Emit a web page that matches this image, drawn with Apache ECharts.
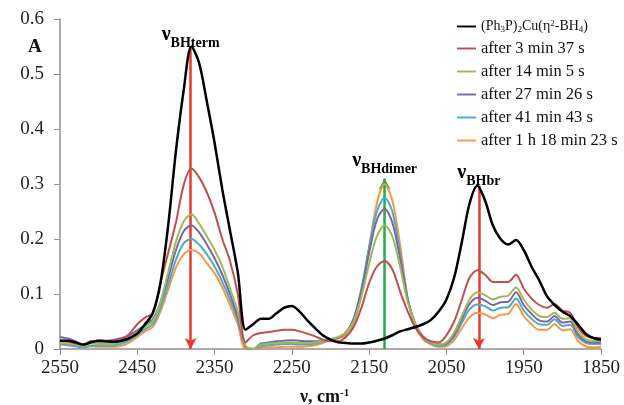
<!DOCTYPE html>
<html lang="en">
<head>
    <meta charset="UTF-8"/>
    <title>IR spectra</title>
    <script src="https://cdn.jsdelivr.net/npm/echarts@6/dist/echarts.min.js"></script>
    <style>
        html, body { margin: 0; padding: 0; background: #fff; }
    </style>
</head>
<body>
<div id="main" style="width:624px;height:405px;"></div>
<script type="text/javascript">
    // wavenumbers, cm-1 (2550 -> 1850)
    var wavenumbers = [2550,2540,2530,2520,2510,2500,2490,2480,2470,2460,2450,2440,2430,2420,2410,2400,2390,2380,2370,2360,
        2350,2340,2330,2320,2310,2300,2290,2280,2270,2260,2250,2240,2230,2220,2210,2200,2190,2180,2170,2160,
        2150,2140,2130,2120,2110,2100,2090,2080,2070,2060,2050,2040,2030,2020,2010,2000,1990,1980,1970,1960,
        1950,1940,1930,1920,1910,1900,1890,1880,1870,1860,1850];

    var startSpec = [0.015,0.015,0.012,0.008,0.012,0.015,0.014,0.013,0.015,0.02,0.028,0.045,0.065,0.12,0.225,0.36,0.47,0.55,0.52,0.45,
        0.375,0.29,0.215,0.14,0.035,0.045,0.055,0.055,0.065,0.075,0.078,0.068,0.052,0.038,0.025,0.017,0.012,0.011,0.01,0.01,
        0.012,0.015,0.019,0.025,0.032,0.036,0.04,0.045,0.053,0.068,0.09,0.13,0.195,0.265,0.297,0.27,0.225,0.2,0.19,0.198,
        0.18,0.15,0.125,0.096,0.08,0.068,0.06,0.045,0.028,0.02,0.017];
    var after3m = [0.015,0.014,0.01,0.008,0.014,0.013,0.013,0.014,0.018,0.028,0.045,0.057,0.065,0.12,0.175,0.23,0.298,0.328,0.312,0.285,
        0.248,0.2,0.16,0.1,0.012,0.025,0.029,0.031,0.033,0.035,0.035,0.032,0.028,0.023,0.017,0.014,0.014,0.022,0.04,0.075,
        0.12,0.15,0.16,0.145,0.105,0.068,0.038,0.022,0.014,0.012,0.025,0.05,0.09,0.13,0.143,0.135,0.122,0.122,0.122,0.135,
        0.11,0.092,0.08,0.075,0.082,0.07,0.066,0.04,0.024,0.02,0.02];
    var after14m = [0.015,0.013,0.01,0.006,0.01,0.009,0.009,0.01,0.013,0.02,0.03,0.04,0.05,0.085,0.14,0.195,0.232,0.245,0.228,0.205,
        0.18,0.15,0.11,0.068,0.006,0.0,0.008,0.01,0.011,0.012,0.012,0.011,0.011,0.012,0.015,0.018,0.022,0.03,0.05,0.095,
        0.155,0.205,0.225,0.205,0.15,0.085,0.045,0.022,0.012,0.008,0.012,0.03,0.06,0.09,0.103,0.098,0.09,0.095,0.097,0.112,
        0.09,0.072,0.06,0.058,0.066,0.055,0.056,0.032,0.018,0.015,0.015];
    var after27m = [0.022,0.019,0.014,0.008,0.014,0.015,0.015,0.017,0.02,0.025,0.034,0.044,0.054,0.085,0.13,0.18,0.214,0.225,0.212,0.19,
        0.165,0.135,0.1,0.058,0.005,0.0,0.01,0.012,0.014,0.015,0.016,0.015,0.014,0.014,0.015,0.017,0.02,0.03,0.055,0.105,
        0.175,0.235,0.255,0.23,0.165,0.09,0.045,0.022,0.012,0.008,0.01,0.026,0.055,0.082,0.093,0.088,0.08,0.085,0.086,0.103,
        0.08,0.064,0.052,0.05,0.06,0.048,0.05,0.027,0.014,0.012,0.012];
    var after41m = [0.008,0.007,0.005,0.003,0.006,0.006,0.006,0.007,0.01,0.016,0.026,0.036,0.045,0.075,0.118,0.162,0.192,0.2,0.19,0.172,
        0.15,0.122,0.09,0.053,0.004,0.0,0.005,0.007,0.008,0.009,0.009,0.008,0.008,0.01,0.013,0.017,0.021,0.03,0.055,0.11,
        0.185,0.25,0.275,0.25,0.175,0.09,0.043,0.02,0.01,0.006,0.008,0.022,0.048,0.072,0.081,0.078,0.07,0.075,0.076,0.092,
        0.07,0.055,0.045,0.044,0.054,0.042,0.044,0.022,0.011,0.009,0.009];
    var after1h18m = [0.012,0.01,0.006,0.003,0.005,0.004,0.004,0.004,0.006,0.012,0.022,0.032,0.04,0.068,0.108,0.148,0.172,0.18,0.174,0.156,
        0.138,0.112,0.08,0.045,0.0,0.0,0.002,0.003,0.003,0.004,0.004,0.004,0.005,0.007,0.011,0.016,0.02,0.025,0.045,0.1,
        0.185,0.265,0.3,0.27,0.19,0.092,0.04,0.017,0.008,0.004,0.005,0.016,0.038,0.058,0.066,0.063,0.056,0.062,0.064,0.082,
        0.06,0.045,0.035,0.035,0.045,0.034,0.036,0.015,0.005,0.003,0.004];

    var seriesNames = ['black', 'after 3 min 37 s', 'after 14 min 5 s', 'after 27 min 26 s', 'after 41 min 43 s', 'after 1 h 18 min 23 s'];
    var seriesColors = ['#000000', '#c0504d', '#9bbb59', '#8064a2', '#4bacc6', '#f79646'];
    var seriesData = [startSpec, after3m, after14m, after27m, after41m, after1h18m];

    var xTicks = [2550, 2450, 2350, 2250, 2150, 2050, 1950, 1850];
    // band positions (cm-1) and their top absorbance
    var bandPos = [2381, 2130, 2008];
    var bandTop = [0.55, 0.31, 0.297];

    var serif = '"Liberation Serif", "DejaVu Serif", serif';
    var myChart = echarts.init(document.getElementById('main'));

    var series = [];
    for (var i = 0; i < seriesData.length; i++) {
        var pts = [];
        for (var j = 0; j < wavenumbers.length; j++) {
            pts.push([wavenumbers[j], seriesData[i][j]]);
        }
        series.push({
            name: seriesNames[i],
            type: 'line',
            data: pts,
            smooth: 0.3,
            symbol: 'none',
            z: 10 - i,
            lineStyle: { color: seriesColors[i], width: i === 0 ? 2.5 : 2 },
            itemStyle: { color: seriesColors[i] }
        });
    }

    // arrows for the bands, label sits above the top end
    function arrow(x, top, up, color, labelTxt, dist) {
        var a = { coord: [x, top] }, b = { coord: [x, 0] };
        return {
            type: 'line', data: [], silent: true,
            markLine: {
                silent: true,
                symbol: up ? ['arrow', 'none'] : ['none', 'arrow'],
                symbolSize: [9, 11],
                lineStyle: { color: color, width: 2.5, type: 'solid' },
                label: {
                    show: true,
                    position: 'start',
                    distance: dist,
                    formatter: '{v|ν}{s|' + labelTxt + '}',
                    rich: {
                        v: { fontFamily: serif, fontWeight: 'bold', fontSize: 20, color: '#000', verticalAlign: 'bottom', padding: [0, 0, 6, 0] },
                        s: { fontFamily: serif, fontWeight: 'bold', fontSize: 14, color: '#000', verticalAlign: 'bottom' }
                    }
                },
                data: [[a, b]]
            }
        };
    }
    series.push(arrow(bandPos[0], bandTop[0], false, '#e8392b', 'BHterm', -4));
    series.push(arrow(bandPos[1], bandTop[1], true, '#1fae4b', 'BHdimer', 2));
    series.push(arrow(bandPos[2], bandTop[2], false, '#e8392b', 'BHbr', -3));

    option = {
        animation: false,
        backgroundColor: '#fff',
        grid: { left: 60, right: 23, top: 19, bottom: 56 },
        legend: {
            orient: 'vertical',
            left: 452,
            top: 14,
            itemGap: 6,
            itemWidth: 19,
            itemHeight: 18,
            icon: 'path://M0,8 L20,8 L20,10 L0,10 Z',
            data: seriesNames,
            formatter: function (n) {
                if (n === 'black') {
                    return '{t|(Ph}{sb|3}{t|P)}{sb|2}{t|Cu(η}{sp|2}{t|-BH}{sb|4}{t|)}';
                }
                return '{n|' + n + '}';
            },
            textStyle: {
                rich: {
                    n: { fontFamily: serif, fontSize: 16.5, color: '#111' },
                    t: { fontFamily: serif, fontSize: 14, color: '#111' },
                    sb: { fontFamily: serif, fontSize: 9, color: '#111', verticalAlign: 'bottom', padding: [6, 0, 0, 0] },
                    sp: { fontFamily: serif, fontSize: 9, color: '#111', verticalAlign: 'top', padding: [0, 0, 6, 0] }
                }
            }
        },
        xAxis: {
            type: 'value',
            inverse: true,
            min: 1850,
            max: 2550,
            splitLine: { show: false },
            axisLine: { lineStyle: { color: '#9a8c88', width: 1.5 } },
            axisTick: { show: true, length: 6, inside: false, customValues: xTicks, lineStyle: { color: '#9a8c88' } },
            axisLabel: {
                customValues: xTicks, margin: 10, fontFamily: serif, fontSize: 19, color: '#222',
                formatter: function (v) { return String(v); }
            }
        },
        yAxis: {
            type: 'value',
            min: 0,
            max: 0.6,
            interval: 0.1,
            splitLine: { show: false },
            axisLine: { show: true, lineStyle: { color: '#9a8c88', width: 1.5 } },
            axisTick: { show: true, length: 6, lineStyle: { color: '#9a8c88' } },
            axisLabel: { margin: 16, fontFamily: serif, fontSize: 19, color: '#222' }
        },
        graphic: [
            {
                type: 'text', left: 28, top: 38,
                style: { text: 'A', font: 'bold 19px ' + serif, fill: '#111' }
            },
            {
                type: 'text', left: 300, top: 388,
                style: {
                    text: '{b|ν, cm}{p|-1}',
                    rich: {
                        b: { fontFamily: serif, fontWeight: 'bold', fontSize: 18, fill: '#111' },
                        p: { fontFamily: serif, fontWeight: 'bold', fontSize: 11, fill: '#111', verticalAlign: 'top', padding: [0, 0, 8, 0] }
                    }
                }
            }
        ],
        series: series
    };

    myChart.setOption(option);
</script>
</body>
</html>
